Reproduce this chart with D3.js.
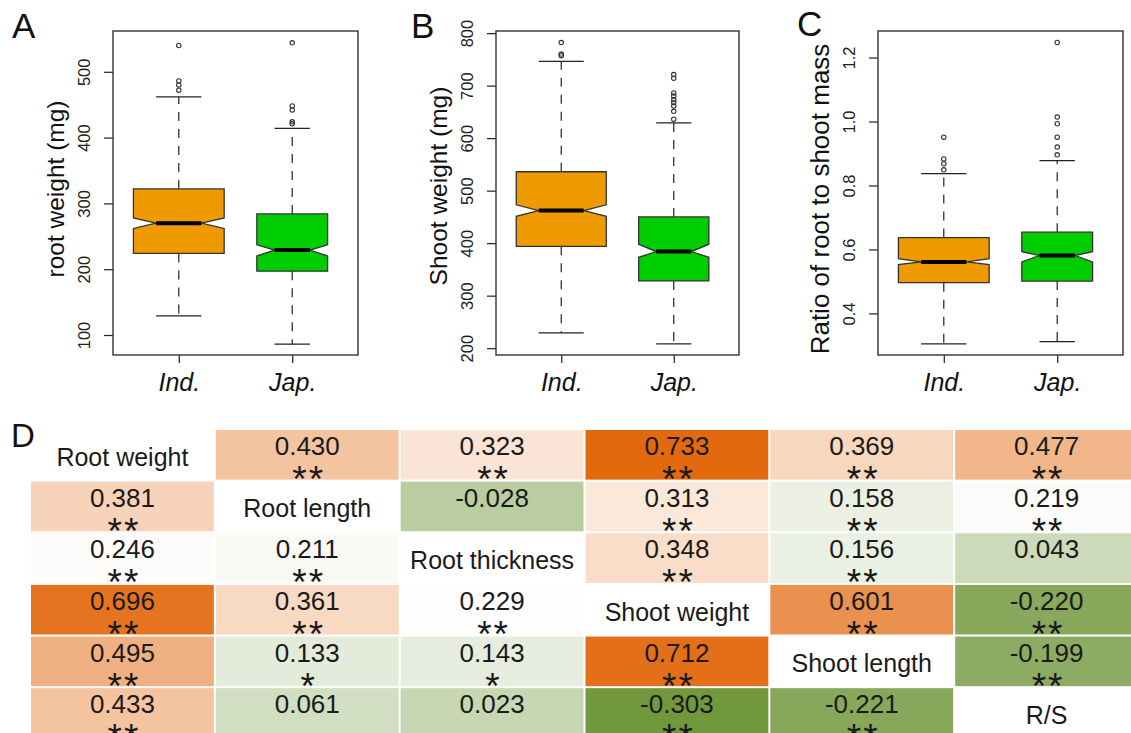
<!DOCTYPE html>
<html>
<head>
<meta charset="utf-8">
<script src="https://cdn.jsdelivr.net/npm/d3@7"></script>
<style>
  body { margin: 0; background: #fff; }
  svg { display: block; font-family: "Liberation Sans", Arial, Helvetica, sans-serif; }
</style>
</head>
<body>
<svg id="fig" width="1131" height="733"></svg>
<script>
// boxplot data: [lower whisker, Q1, median, Q3, upper whisker]
const groups = ['Ind.', 'Jap.'];
const groupColors = ['#ee9a00', '#00cd00'];
const boxRelWidth = [1, 0.78];

const rootWeightStats = [[129, 224, 270, 322, 462], [86, 197, 229, 284, 414]];
const rootWeightNotch = [[262, 278], [220, 237]];
const rootWeightOut = [[472, 480, 486, 540], [421, 424, 442, 448, 544]];
const rootWeightTicks = [100, 200, 300, 400, 500];

const shootWeightStats = [[229, 394, 462, 536, 746], [208, 328, 384, 450, 629]];
const shootWeightNotch = [[451, 473], [373, 398]];
const shootWeightOut = [[757, 760, 782], [636, 651, 661, 668, 673, 680, 686, 714, 721]];
const shootWeightTicks = [200, 300, 400, 500, 600, 700, 800];

const ratioStats = [[0.305, 0.496, 0.561, 0.637, 0.837], [0.312, 0.501, 0.581, 0.654, 0.878]];
const ratioNotch = [[0.553, 0.571], [0.561, 0.593]];
const ratioOut = [[0.849, 0.868, 0.883, 0.951], [0.896, 0.920, 0.951, 0.993, 1.014, 1.247]];
const ratioTicks = [0.4, 0.6, 0.8, 1.0, 1.2];

// correlation table (diagonal holds trait names)
const traits = ['Root weight', 'Root length', 'Root thickness', 'Shoot weight', 'Shoot length', 'R/S'];
const corr = [
  [null, 0.430, 0.323, 0.733, 0.369, 0.477],
  [0.381, null, -0.028, 0.313, 0.158, 0.219],
  [0.246, 0.211, null, 0.348, 0.156, 0.043],
  [0.696, 0.361, 0.229, null, 0.601, -0.220],
  [0.495, 0.133, 0.143, 0.712, null, -0.199],
  [0.433, 0.061, 0.023, -0.303, -0.221, null]
];
const signif = [
  ['', '**', '**', '**', '**', '**'],
  ['**', '', '', '**', '**', '**'],
  ['**', '**', '', '**', '**', ''],
  ['**', '**', '**', '', '**', '**'],
  ['**', '*', '*', '**', '', '**'],
  ['**', '', '', '**', '**', '']
];

const svg = d3.select('#fig');
const ink = '#222';

const panels = [
  { letter: 'A', title: 'root weight (mg)', stats: rootWeightStats, notch: rootWeightNotch, out: rootWeightOut,
    ticks: rootWeightTicks, domain: [69.6, 562], fmt: d3.format('d'), left: 113, right: 358,
    lx: 12, ly: 38, titleSize: 24.5, titleY: 189 },
  { letter: 'B', title: 'Shoot weight (mg)', stats: shootWeightStats, notch: shootWeightNotch, out: shootWeightOut,
    ticks: shootWeightTicks, domain: [187, 804], fmt: d3.format('d'), left: 496, right: 739,
    lx: 411, ly: 38, titleSize: 24.5, titleY: 186 },
  { letter: 'C', title: 'Ratio of root to shoot mass', stats: ratioStats, notch: ratioNotch, out: ratioOut,
    ticks: ratioTicks, domain: [0.27, 1.283], fmt: d3.format('.1f'), left: 878, right: 1123,
    lx: 797, ly: 36, titleSize: 26, titleY: 199 }
];

const plotTop = 31, plotBottom = 355;

panels.forEach(p => {
  const g = svg.append('g');
  const y = d3.scaleLinear().domain(p.domain).range([plotBottom, plotTop]);
  const x = d3.scalePoint().domain(groups).range([p.left, p.right]).padding(0.58);
  const halfBase = x.step() * 0.8 / 2;

  // y axis with labels turned parallel to it
  const ya = g.append('g').attr('transform', `translate(${p.left},0)`)
    .call(d3.axisLeft(y).tickValues(p.ticks).tickFormat(p.fmt).tickSize(9));
  ya.select('.domain').remove();
  ya.selectAll('line').attr('stroke', ink).attr('stroke-width', 1.2);
  ya.selectAll('text')
    .attr('transform', 'rotate(-90)')
    .attr('x', 0).attr('y', -29).attr('dy', '0.36em')
    .attr('text-anchor', 'middle')
    .attr('font-size', 16.5).attr('fill', ink);
  ya.attr('font-family', null).attr('font-size', null);

  // x axis
  const xa = g.append('g').attr('transform', `translate(0,${plotBottom})`)
    .call(d3.axisBottom(x).tickSize(8));
  xa.select('.domain').remove();
  xa.selectAll('line').attr('stroke', ink).attr('stroke-width', 1.2);
  xa.selectAll('text')
    .attr('y', 36).attr('dy', 0)
    .attr('font-size', 25).attr('font-style', 'italic').attr('fill', '#111');
  xa.attr('font-family', null).attr('font-size', null);

  // boxes
  groups.forEach((grp, i) => {
    const cx = x(grp);
    const w = halfBase * boxRelWidth[i];
    const [lo, q1, med, q3, hi] = p.stats[i];
    const [nLo, nHi] = p.notch[i];

    // whiskers + staples
    g.append('line').attr('x1', cx).attr('x2', cx).attr('y1', y(q3)).attr('y2', y(hi))
      .attr('stroke', ink).attr('stroke-width', 1.2).attr('stroke-dasharray', '9,8');
    g.append('line').attr('x1', cx).attr('x2', cx).attr('y1', y(q1)).attr('y2', y(lo))
      .attr('stroke', ink).attr('stroke-width', 1.2).attr('stroke-dasharray', '9,8');
    [lo, hi].forEach(v => {
      g.append('line').attr('x1', cx - w / 2).attr('x2', cx + w / 2).attr('y1', y(v)).attr('y2', y(v))
        .attr('stroke', ink).attr('stroke-width', 1.3);
    });

    // notched box
    const pts = [
      [cx - w, y(q1)], [cx - w, y(nLo)], [cx - w / 2, y(med)], [cx - w, y(nHi)], [cx - w, y(q3)],
      [cx + w, y(q3)], [cx + w, y(nHi)], [cx + w / 2, y(med)], [cx + w, y(nLo)], [cx + w, y(q1)]
    ];
    g.append('path').attr('d', d3.line()(pts) + 'Z')
      .attr('fill', groupColors[i]).attr('stroke', '#333').attr('stroke-width', 1.3);
    g.append('line').attr('x1', cx - w / 2).attr('x2', cx + w / 2).attr('y1', y(med)).attr('y2', y(med))
      .attr('stroke', '#000').attr('stroke-width', 4);

    // outliers
    g.selectAll(null).data(p.out[i]).enter().append('circle')
      .attr('cx', cx).attr('cy', d => y(d)).attr('r', 2.2)
      .attr('fill', 'none').attr('stroke', '#333').attr('stroke-width', 1.1);
  });

  // frame
  g.append('rect').attr('x', p.left).attr('y', plotTop)
    .attr('width', p.right - p.left).attr('height', plotBottom - plotTop)
    .attr('fill', 'none').attr('stroke', '#333').attr('stroke-width', 1.4);

  // y title
  g.append('text')
    .attr('transform', `translate(${p.left - 58},${p.titleY}) rotate(-90)`)
    .attr('text-anchor', 'middle').attr('dy', '0.36em')
    .attr('font-size', p.titleSize).attr('fill', '#111')
    .text(p.title);

  // panel letter
  svg.append('text').attr('x', p.lx).attr('y', p.ly)
    .attr('font-size', 35).attr('fill', '#111').text(p.letter);
});

// panel D: correlation table
const fmt = d3.formatLocale({ decimal: '.', thousands: ',', grouping: [3], currency: ['', ''], minus: '-' }).format('.3f');
const allVals = corr.flat().filter(v => v !== null);
const color = d3.scaleLinear()
  .domain([d3.min(allVals), 0.235, d3.max(allVals)])
  .range(['#72983e', '#ffffff', '#e3690f']);

const colX = d3.scaleBand().domain(d3.range(traits.length)).range([31, 31 + 184.5 * 6]).paddingInner(2 / 184.5);
const rowY = d3.scaleBand().domain(d3.range(traits.length)).range([430, 430 + 51.3 * 6]).paddingInner(2 / 51.3);

const cells = [];
corr.forEach((row, r) => row.forEach((v, c) => cells.push({ r, c, v, s: signif[r][c] })));

const tg = svg.append('g');
const cell = tg.selectAll('g.cell').data(cells).enter().append('g').attr('class', 'cell')
  .attr('transform', d => `translate(${colX(d.c)},${rowY(d.r)})`);

cell.append('rect')
  .attr('width', colX.bandwidth()).attr('height', rowY.bandwidth())
  .attr('fill', d => d.v === null ? '#ffffff' : color(d.v));

cell.filter(d => d.v !== null).append('text')
  .attr('x', colX.bandwidth() / 2).attr('y', 25)
  .attr('text-anchor', 'middle').attr('font-size', 26).attr('fill', '#1a1a1a')
  .text(d => fmt(d.v));

cell.filter(d => d.s).append('text')
  .attr('x', colX.bandwidth() / 2 + 1.5).attr('y', 62)
  .attr('text-anchor', 'middle').attr('font-size', 37).attr('letter-spacing', 2).attr('fill', '#1a1a1a')
  .text(d => d.s);

cell.filter(d => d.v === null).append('text')
  .attr('x', colX.bandwidth() / 2).attr('y', rowY.bandwidth() / 2 + 2).attr('dy', '0.36em')
  .attr('text-anchor', 'middle').attr('font-size', 25).attr('fill', '#1a1a1a')
  .text(d => traits[d.r]);

svg.append('text').attr('x', 11).attr('y', 447).attr('font-size', 33).attr('fill', '#111').text('D');
</script>
</body>
</html>
